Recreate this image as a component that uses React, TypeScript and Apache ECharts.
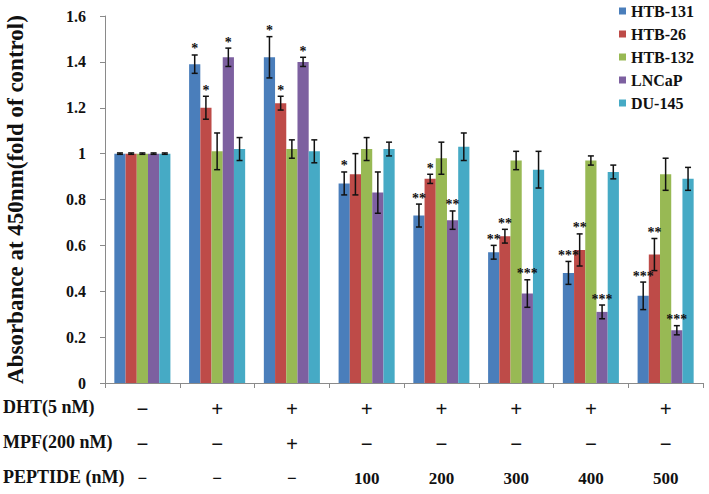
import React, { useEffect, useRef } from "react";
import * as echarts from "echarts";

const seriesNames = ["HTB-131", "HTB-26", "HTB-132", "LNCaP", "DU-145"];
const colors = ["#4A7EBB", "#BE4B48", "#98B954", "#7D60A0", "#46AAC5"];

const dhtRow = ["−", "+", "+", "+", "+", "+", "+", "+"];
const mpfRow = ["−", "−", "+", "−", "−", "−", "−", "−"];
const peptideRow = ["−", "−", "−", "100", "200", "300", "400", "500"];
const rowLabels = ["DHT(5 nM)", "MPF(200 nM)", "PEPTIDE (nM)"];

const htb131 = [1.0, 1.39, 1.42, 0.87, 0.73, 0.57, 0.48, 0.38];
const htb26 = [1.0, 1.2, 1.22, 0.91, 0.89, 0.64, 0.58, 0.56];
const htb132 = [1.0, 1.01, 1.02, 1.02, 0.98, 0.97, 0.97, 0.91];
const lncap = [1.0, 1.42, 1.4, 0.83, 0.71, 0.39, 0.31, 0.23];
const du145 = [1.0, 1.02, 1.01, 1.02, 1.03, 0.93, 0.92, 0.89];

const htb131Err = [0.003, 0.04, 0.09, 0.05, 0.05, 0.03, 0.05, 0.06];
const htb26Err = [0.003, 0.05, 0.03, 0.09, 0.02, 0.03, 0.07, 0.07];
const htb132Err = [0.003, 0.08, 0.04, 0.05, 0.07, 0.04, 0.02, 0.07];
const lncapErr = [0.003, 0.04, 0.02, 0.09, 0.04, 0.06, 0.03, 0.02];
const du145Err = [0.003, 0.05, 0.05, 0.03, 0.06, 0.08, 0.03, 0.05];

const htb131Stars = ["", "*", "*", "*", "**", "**", "***", "***"];
const htb26Stars = ["", "*", "*", "", "*", "**", "**", "**"];
const htb132Stars = ["", "", "", "", "", "", "", ""];
const lncapStars = ["", "*", "*", "", "**", "***", "***", "***"];
const du145Stars = ["", "", "", "", "", "", "", ""];

const yTicks = { min: 0, max: 1.6, interval: 0.2 };

const allValues = [htb131, htb26, htb132, lncap, du145];
const allErrs = [htb131Err, htb26Err, htb132Err, lncapErr, du145Err];
const allStars = [htb131Stars, htb26Stars, htb132Stars, lncapStars, du145Stars];

const FONT = "Liberation Serif";
const CAT_GAP = 0.25;

export default function App() {
  const ref = useRef<HTMLDivElement>(null);
  useEffect(() => {
    if (!ref.current) return;
    const chart = echarts.init(ref.current, undefined, { renderer: "svg" });
    const categories = dhtRow.map((_, i) => String(i));
    const n = seriesNames.length;

    const barSeries = seriesNames.map((name, si) => ({
      name,
      type: "bar",
      data: allValues[si],
      barGap: "0%",
      barCategoryGap: CAT_GAP * 100 + "%",
      itemStyle: { color: colors[si] },
      z: 2,
    }));

    const errSeries = seriesNames.map((name, si) => ({
      name: name + " error",
      type: "custom",
      z: 5,
      itemStyle: { color: "#111" },
      data: allValues[si].map((v, i) => [i, v, allErrs[si][i]]),
      encode: { x: 0, y: 1 },
      renderItem: (params: any, api: any) => {
        const x = api.value(0);
        const v = api.value(1);
        const e = api.value(2);
        const hi = api.coord([x, v + e]);
        const lo = api.coord([x, v - e]);
        const band = api.size([1, 0])[0];
        const bw = (band * (1 - CAT_GAP)) / n;
        const cx = hi[0] + (si - (n - 1) / 2) * bw;
        const cap = 3;
        const stroke = { stroke: "#111", lineWidth: 1.5, fill: null };
        const children: any[] = [
          { type: "line", shape: { x1: cx, y1: hi[1], x2: cx, y2: lo[1] }, style: stroke },
          { type: "line", shape: { x1: cx - cap, y1: hi[1], x2: cx + cap, y2: hi[1] }, style: stroke },
          { type: "line", shape: { x1: cx - cap, y1: lo[1], x2: cx + cap, y2: lo[1] }, style: stroke },
        ];
        const star = allStars[si][params.dataIndex];
        if (star) {
          children.push({
            type: "text",
            x: cx,
            y: hi[1] + 1,
            style: {
              text: star,
              align: "center",
              verticalAlign: "bottom",
              fontFamily: FONT,
              fontWeight: "bold",
              fontSize: 14,
              fill: "#111",
              stroke: "none",
              lineWidth: 0,
            },
          });
        }
        return { type: "group", children };
      },
    }));

    chart.setOption({
      animation: false,
      backgroundColor: "#fff",
      grid: { left: 105, right: 6, top: 16, bottom: 111, outerBoundsMode: "none", containLabel: false },
      legend: {
        orient: "vertical",
        left: 614,
        top: -2,
        data: seriesNames,
        icon: "rect",
        itemWidth: 7,
        itemHeight: 7,
        itemGap: 7,
        textStyle: { fontFamily: FONT, fontWeight: "bold", fontSize: 16, color: "#111" },
      },
      xAxis: {
        type: "category",
        data: categories,
        axisLine: { lineStyle: { color: "#8a8a8a", width: 1 } },
        axisTick: { show: true, length: 5, lineStyle: { color: "#8a8a8a" } },
        axisLabel: {
          margin: 8,
          interval: 0,
          formatter: (_v: string, idx: number) =>
            `{a|${dhtRow[idx]}}\n{b|${mpfRow[idx]}}\n{c|${peptideRow[idx]}}`,
          rich: {
            a: { fontFamily: FONT, fontWeight: "bold", fontSize: 21, lineHeight: 35, color: "#111" },
            b: { fontFamily: FONT, fontWeight: "bold", fontSize: 21, lineHeight: 35, color: "#111" },
            c: { fontFamily: FONT, fontWeight: "bold", fontSize: 17, lineHeight: 35, color: "#111" },
          },
        },
      },
      yAxis: {
        type: "value",
        min: yTicks.min,
        max: yTicks.max,
        interval: yTicks.interval,
        name: "Absorbance at 450nm(fold of control)",
        nameLocation: "middle",
        nameGap: 78,
        nameTextStyle: { fontFamily: FONT, fontWeight: "bold", fontSize: 23, color: "#111" },
        axisLine: { show: true, lineStyle: { color: "#8a8a8a", width: 1 } },
        axisTick: { show: true, length: 5, lineStyle: { color: "#8a8a8a" } },
        splitLine: { show: false },
        axisLabel: {
          margin: 19,
          fontFamily: FONT,
          fontWeight: "bold",
          fontSize: 16,
          color: "#111",
        },
      },
      graphic: rowLabels.map((t, i) => ({
        type: "text",
        left: 3,
        top: 398 + i * 35,
        style: { text: t, fontFamily: FONT, fontWeight: "bold", fontSize: 18, fill: "#111" },
      })),
      series: [...barSeries, ...errSeries],
    });
    return () => chart.dispose();
  }, []);
  return (
    <div
      ref={ref}
      style={{ position: "absolute", left: 0, top: 0, width: 709, height: 494 }}
    />
  );
}
